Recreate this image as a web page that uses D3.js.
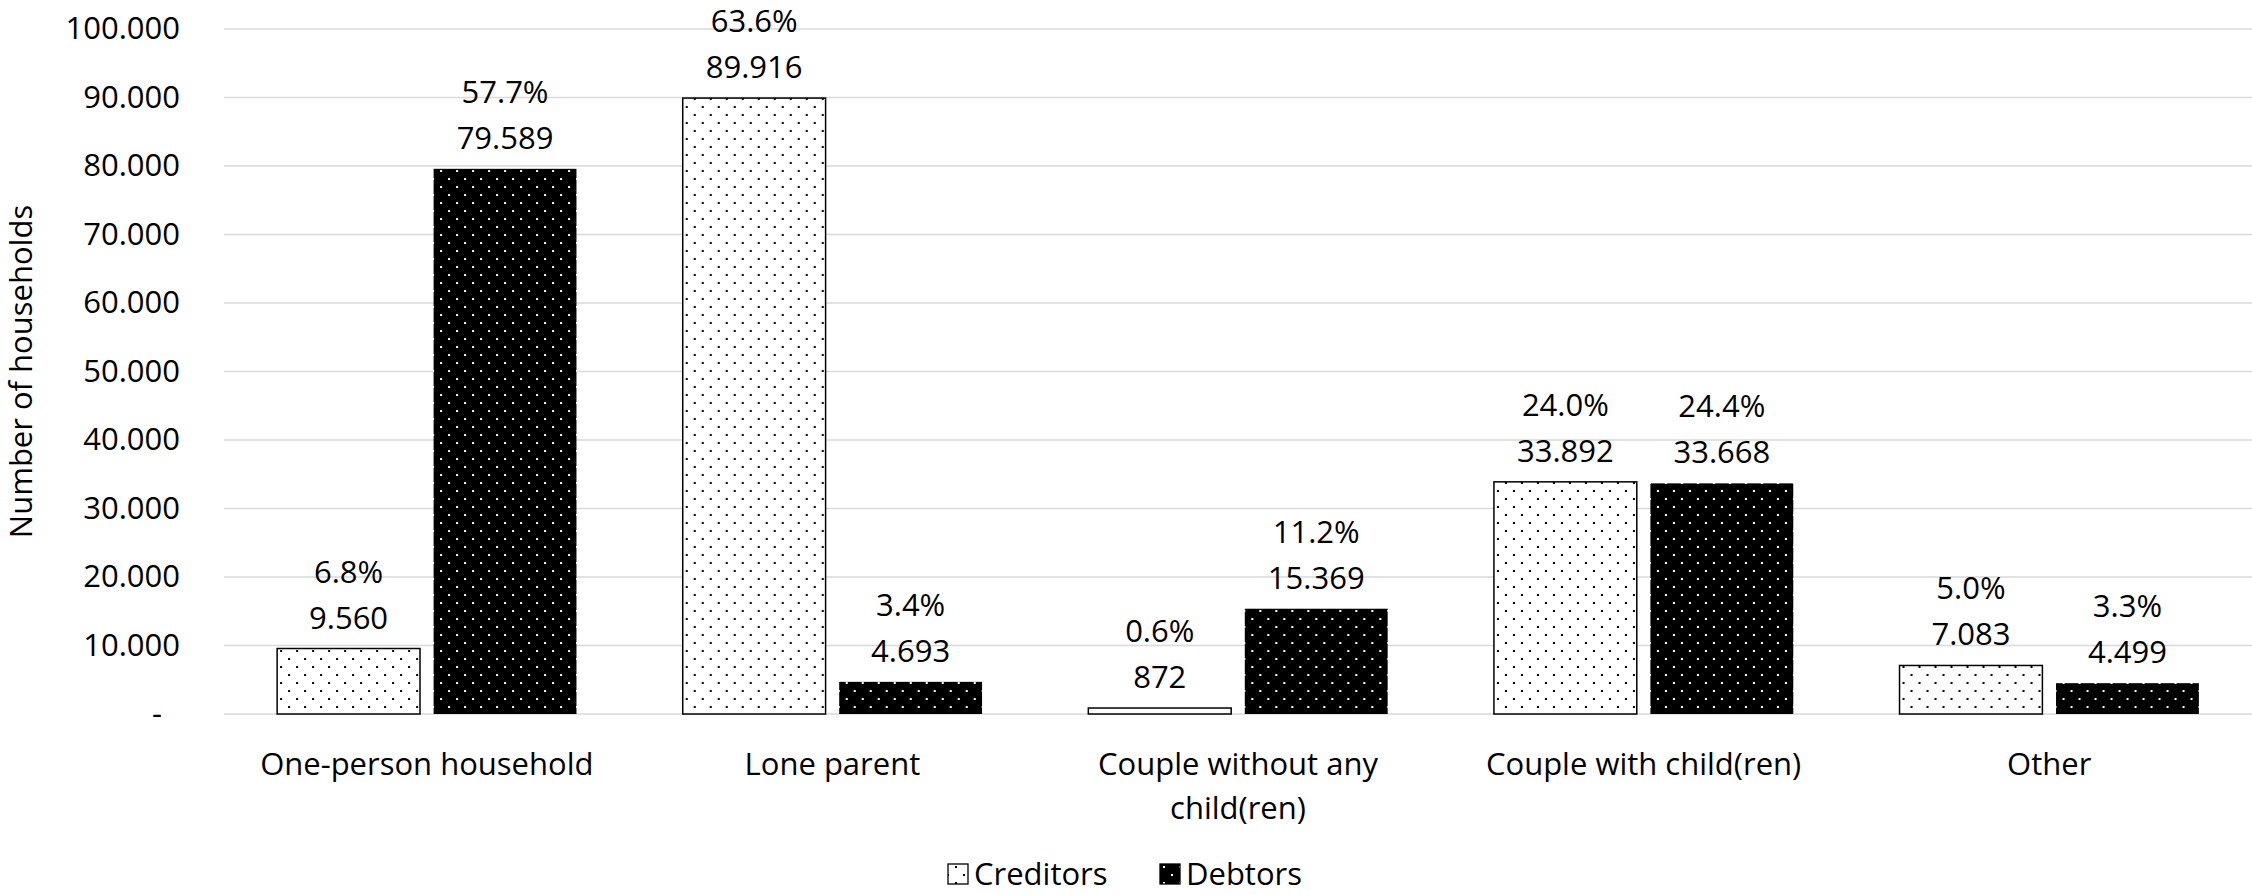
<!DOCTYPE html>
<html>
<head>
<meta charset="utf-8">
<script src="https://cdn.jsdelivr.net/npm/d3@7"></script>
<style>
  html, body { margin: 0; padding: 0; background: #fff; }
  svg text { font-family: "Open Sans", sans-serif; fill: #000; }
</style>
</head>
<body>
<svg id="chart" width="2252" height="895"></svg>
<script>
// Households by type, creditors vs debtors
const categories = ["One-person household", "Lone parent", "Couple without any child(ren)", "Couple with child(ren)", "Other"];
const seriesNames = ["Creditors", "Debtors"];
const creditors = [9560, 89916, 872, 33892, 7083];
const debtors = [79589, 4693, 15369, 33668, 4499];
const yTicks = [0, 10000, 20000, 30000, 40000, 50000, 60000, 70000, 80000, 90000, 100000];
const yTitle = "Number of households";

const W = 2252, H = 895;
const margin = { left: 224, right: 0, top: 29, bottom: 181 };
const FS = 31;

const svg = d3.select("#chart");

// dotted fills
const defs = svg.append("defs");
function dotPattern(id, bg, dot) {
  const p = defs.append("pattern").attr("id", id)
    .attr("patternUnits", "userSpaceOnUse").attr("width", 16).attr("height", 16);
  p.append("rect").attr("width", 16).attr("height", 16).attr("fill", bg);
  p.append("rect").attr("x", 11).attr("y", 2).attr("width", 2).attr("height", 2).attr("fill", dot);
  p.append("rect").attr("x", 3).attr("y", 10).attr("width", 2).attr("height", 2).attr("fill", dot);
}
dotPattern("dotsLight", "#fff", "#000");
dotPattern("dotsDark", "#000", "#fff");
const fills = { Creditors: "url(#dotsLight)", Debtors: "url(#dotsDark)" };

const x0 = d3.scaleBand().domain(categories)
  .range([margin.left, W - margin.right]).paddingInner(0.262).paddingOuter(0.131);
const x1 = d3.scaleBand().domain(seriesNames)
  .range([0, x0.bandwidth()]).paddingInner(0.087);
const y = d3.scaleLinear().domain([0, 100000]).range([H - margin.bottom, margin.top]);

const fmtNum = d3.formatLocale({ decimal: ",", thousands: ".", grouping: [3], currency: ["", ""] }).format(",d");

// gridlines
svg.append("g").selectAll("line").data(yTicks).join("line")
  .attr("x1", margin.left).attr("x2", W - margin.right)
  .attr("y1", d => y(d)).attr("y2", d => y(d))
  .attr("stroke", "#d9d9d9").attr("stroke-width", 1.3);

// y axis labels
const yAxis = d3.axisLeft(y).tickValues(yTicks).tickSize(0).tickPadding(44)
  .tickFormat(d => d === 0 ? "-" : fmtNum(d));
const gy = svg.append("g").attr("transform", `translate(${margin.left},0)`).call(yAxis);
gy.select(".domain").remove();
gy.selectAll("text").attr("font-size", FS).attr("font-family", "Open Sans, sans-serif").attr("fill", "#000")
  .attr("dx", d => d === 0 ? -18 : 0);

// y title
svg.append("text")
  .attr("transform", `translate(20,${(y(0) + y(100000)) / 2}) rotate(-90)`)
  .attr("text-anchor", "middle").attr("dominant-baseline", "central")
  .attr("font-size", FS).text(yTitle);

// bars
const rows = categories.map((c, i) => ({ cat: c, vals: [
  { s: "Creditors", v: creditors[i] }, { s: "Debtors", v: debtors[i] }] }));
const totals = { Creditors: d3.sum(creditors), Debtors: d3.sum(debtors) };

const groups = svg.append("g").selectAll("g").data(rows).join("g")
  .attr("transform", d => `translate(${x0(d.cat)},0)`);

groups.selectAll("rect").data(d => d.vals).join("rect")
  .attr("x", d => x1(d.s)).attr("width", x1.bandwidth())
  .attr("y", d => y(d.v)).attr("height", d => y(0) - y(d.v))
  .attr("fill", d => fills[d.s])
  .attr("stroke", "#000").attr("stroke-width", d => d.s === "Creditors" ? 1.5 : 0);

// value and share labels
groups.selectAll("text.val").data(d => d.vals).join("text").attr("class", "val")
  .attr("x", d => x1(d.s) + x1.bandwidth() / 2).attr("y", d => y(d.v) - 32)
  .attr("text-anchor", "middle").attr("dominant-baseline", "central")
  .attr("font-size", FS).text(d => fmtNum(d.v));
groups.selectAll("text.pct").data(d => d.vals).join("text").attr("class", "pct")
  .attr("x", d => x1(d.s) + x1.bandwidth() / 2).attr("y", d => y(d.v) - 78)
  .attr("text-anchor", "middle").attr("dominant-baseline", "central")
  .attr("font-size", FS).text(d => (d.v / totals[d.s] * 100).toFixed(1) + "%");

// category labels with wrapping
const catG = svg.append("g");
categories.forEach(c => {
  const t = catG.append("text").attr("text-anchor", "middle")
    .attr("x", x0(c) + x0.bandwidth() / 2).attr("y", 763)
    .attr("dominant-baseline", "central").attr("font-size", FS);
  const words = c.split(" ");
  let line = [];
  let ts = t.append("tspan").attr("x", x0(c) + x0.bandwidth() / 2).attr("dy", 0);
  words.forEach(w => {
    line.push(w);
    ts.text(line.join(" "));
    if (ts.node().getComputedTextLength() > 360 && line.length > 1) {
      line.pop();
      ts.text(line.join(" "));
      line = [w];
      ts = t.append("tspan").attr("x", x0(c) + x0.bandwidth() / 2).attr("dy", 44).text(w);
    }
  });
});

// legend
const legend = svg.append("g");
const legendItems = [{ s: "Creditors", x: 948 }, { s: "Debtors", x: 1160 }];
legendItems.forEach(it => {
  legend.append("rect").attr("x", it.x).attr("y", 864).attr("width", 20).attr("height", 20)
    .attr("fill", fills[it.s]).attr("stroke", "#000").attr("stroke-width", 1.3);
  legend.append("text").attr("x", it.x + 26).attr("y", 873).attr("dominant-baseline", "central")
    .attr("font-size", FS).text(it.s);
});
</script>
</body>
</html>
